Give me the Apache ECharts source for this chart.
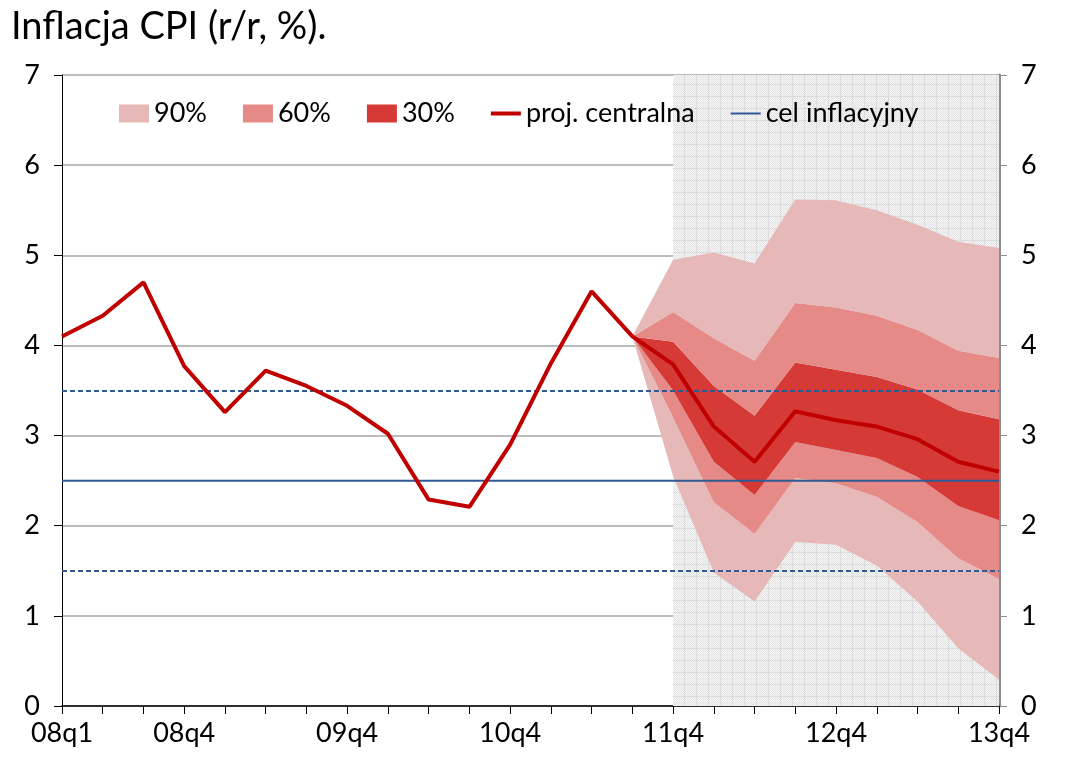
<!DOCTYPE html>
<html>
<head>
<meta charset="utf-8">
<script src="https://cdn.jsdelivr.net/npm/echarts@6/dist/echarts.min.js"></script>
<style>
    html, body { margin: 0; padding: 0; background: #fff; }
    #chart { width: 1065px; height: 773px; }
</style>
</head>
<body>
<div id="chart"></div>
<script>
    // kwartaly 08q1 .. 13q4
    var categories = ['08q1','08q2','08q3','08q4','09q1','09q2','09q3','09q4',
        '10q1','10q2','10q3','10q4','11q1','11q2','11q3','11q4',
        '12q1','12q2','12q3','12q4','13q1','13q2','13q3','13q4']
    var shownLabels = ['08q1','08q4','09q4','10q4','11q4','12q4','13q4']

    // dane historyczne + projekcja centralna
    var projCentralna = [4.1, 4.33, 4.7, 3.77, 3.26, 3.72, 3.55, 3.33, 3.02, 2.29, 2.21, 2.9,
        3.8, 4.6, 4.1, 3.79, 3.1, 2.71, 3.27, 3.17, 3.1, 2.96, 2.71, 2.6]

    // granice wachlarza (od 11q3), '-' = brak
    var upper90 = ['-','-','-','-','-','-','-','-','-','-','-','-','-','-', 4.1, 4.95, 5.03, 4.91, 5.62, 5.61, 5.5, 5.34, 5.15, 5.08]
    var upper60 = ['-','-','-','-','-','-','-','-','-','-','-','-','-','-', 4.1, 4.37, 4.08, 3.83, 4.47, 4.42, 4.33, 4.17, 3.94, 3.86]
    var upper30 = ['-','-','-','-','-','-','-','-','-','-','-','-','-','-', 4.1, 4.04, 3.55, 3.22, 3.81, 3.73, 3.65, 3.51, 3.28, 3.18]
    var lower30 = ['-','-','-','-','-','-','-','-','-','-','-','-','-','-', 4.1, 3.5, 2.71, 2.34, 2.93, 2.84, 2.75, 2.54, 2.22, 2.06]
    var lower60 = ['-','-','-','-','-','-','-','-','-','-','-','-','-','-', 4.1, 3.2, 2.26, 1.91, 2.53, 2.47, 2.32, 2.04, 1.64, 1.41]
    var lower90 = ['-','-','-','-','-','-','-','-','-','-','-','-','-','-', 4.1, 2.55, 1.48, 1.16, 1.82, 1.79, 1.56, 1.16, 0.64, 0.29]

    var celInflacyjny = 2.5
    var pasmoTolerancji = [1.5, 3.5]
    var projectionStart = '11q4'

    var c90 = '#e6b9b8', c60 = '#e68a87', c30 = '#d63a37'
    var red = '#c00000', blue = '#2f5a96'
    var font = 'Lato, "Open Sans", sans-serif'

    function diff (a, b) {
        return a.map(function (v, i) { return v === '-' ? '-' : +(v - b[i]).toFixed(3) })
    }

    // kropkowane tlo okresu projekcji
    var pat = document.createElement('canvas')
    pat.width = 12; pat.height = 12
    var pc = pat.getContext('2d')
    pc.fillStyle = '#f5f5f5'
    pc.fillRect(0, 0, 12, 12)
    pc.fillStyle = '#e4e4e4'
    for (var py = 0; py < 12; py++) {
        for (var px = (py % 2); px < 12; px += 2) pc.fillRect(px, py, 1, 1)
    }
    pc.fillStyle = '#dcdcdc'
    pc.fillRect(0, 0, 12, 1)
    pc.fillRect(0, 0, 1, 12)

    function band (name, data, color) {
        return {
            name: name, type: 'line', stack: 'fan', data: data,
            symbol: 'none', lineStyle: { width: 0 },
            areaStyle: { color: color, opacity: 1 },
            itemStyle: { color: color }, z: 3
        }
    }

    var chart = echarts.init(document.getElementById('chart'))
    var option = {
        animation: false,
        textStyle: { fontFamily: font },
        title: {
            text: 'Inflacja CPI (r/r, %).',
            left: 6, top: 3,
            textStyle: { fontSize: 38, fontWeight: 'normal', color: '#000', fontFamily: font }
        },
        legend: {
            top: 95, left: 114,
            itemWidth: 30, itemHeight: 18, itemGap: 36,
            textStyle: { fontSize: 27, color: '#000' },
            data: [
                { name: '90%', icon: 'rect' },
                { name: '60%', icon: 'rect' },
                { name: '30%', icon: 'rect' },
                { name: 'proj. centralna', icon: 'path://M0,0h30v4h-30z',
                    itemStyle: { color: red, borderWidth: 0 } },
                { name: 'cel inflacyjny', icon: 'path://M0,0h30v2h-30z',
                    itemStyle: { color: blue, borderWidth: 0 } }
            ]
        },
        grid: { left: 62, right: 66, top: 75, bottom: 67 },
        xAxis: {
            type: 'category', data: categories, boundaryGap: false,
            axisLine: { lineStyle: { color: '#000', width: 1.5 } },
            axisTick: { show: true, interval: 0, length: 8, lineStyle: { color: '#000' } },
            axisLabel: {
                interval: function (idx, val) { return shownLabels.indexOf(val) >= 0 },
                fontSize: 27, color: '#000', margin: 14
            },
            splitLine: { show: false }
        },
        yAxis: [{
            type: 'value', min: 0, max: 7, interval: 1,
            axisLine: { show: true, lineStyle: { color: '#000' } },
            axisTick: { show: true, length: 8, lineStyle: { color: '#000' } },
            axisLabel: { fontSize: 27, color: '#000', margin: 22 },
            splitLine: { lineStyle: { color: '#a6a6a6', width: 1.5 } }
        }, {
            type: 'value', min: 0, max: 7, interval: 1, position: 'right',
            axisLine: { show: true, lineStyle: { color: '#8c8c8c', width: 3 } },
            axisTick: { show: true, length: 8, lineStyle: { color: '#8c8c8c' } },
            axisLabel: { fontSize: 27, color: '#000', margin: 22 },
            splitLine: { show: false }
        }],
        series: [
            {
                name: 'base', type: 'line', stack: 'fan', data: lower90,
                symbol: 'none', lineStyle: { width: 0 }, z: 3,
                markArea: {
                    silent: true,
                    itemStyle: { color: { image: pat, repeat: 'repeat' } },
                    data: [[{ xAxis: projectionStart, yAxis: 0 }, { xAxis: categories[categories.length - 1], yAxis: 7 }]]
                }
            },
            band('90%', diff(lower60, lower90), c90),
            band('60%', diff(lower30, lower60), c60),
            band('30%', diff(upper30, lower30), c30),
            band('60%', diff(upper60, upper30), c60),
            band('90%', diff(upper90, upper60), c90),
            {
                name: 'cel inflacyjny', type: 'line',
                data: categories.map(function () { return celInflacyjny }),
                symbol: 'none', z: 5,
                lineStyle: { color: blue, width: 2 },
                itemStyle: { color: blue },
                markLine: {
                    silent: true, symbol: 'none', label: { show: false },
                    lineStyle: { color: blue, width: 2, type: [5, 3] },
                    data: pasmoTolerancji.map(function (v) { return { yAxis: v } })
                }
            },
            {
                name: 'proj. centralna', type: 'line', data: projCentralna,
                symbol: 'none', z: 6,
                lineStyle: { color: red, width: 4 },
                itemStyle: { color: red }
            }
        ]
    }
    chart.setOption(option)
</script>
</body>
</html>
